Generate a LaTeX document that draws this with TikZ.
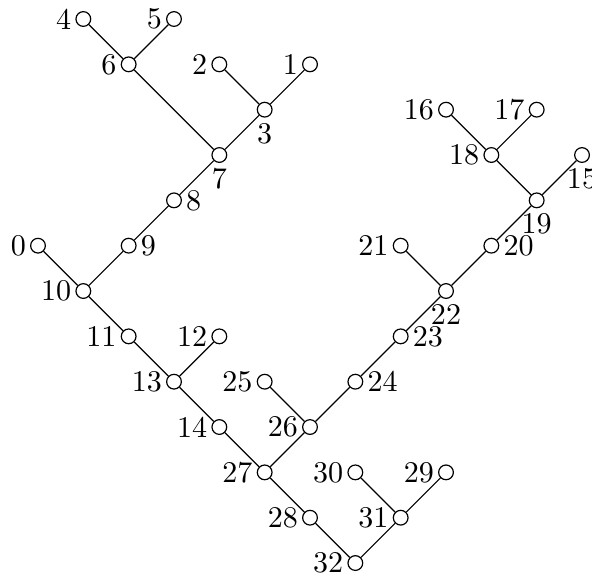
\documentclass[tikz,border=0pt]{standalone}
\usepackage{tikz}

\begin{document}
\begin{tikzpicture}[x=0.53cm,y=0.53cm]
\tikzset{
vtx/.style={circle,draw,fill=white,inner sep=0pt,minimum size=4.9pt},
every label/.style={inner sep=1.2pt},
link/.style={draw,line width=.4pt}
}
\useasboundingbox (-0.838,0.419) rectangle (12.22,-12.376);
% vertices with the label at one side
\foreach \n/\c/\r/\p in {0/0/5/left,1/6/1/left,2/4/1/left,4/1/0/left,5/3/0/left,6/2/1/left,
  8/3/4/right,9/2/5/right,10/1/6/left,11/2/7/left,12/4/7/left,13/3/8/left,14/4/9/left,
  16/9/2/left,17/11/2/left,18/10/3/left,20/10/5/right,21/8/5/left,23/8/7/right,
  24/7/8/right,25/5/8/left,26/6/9/left,27/5/10/left,28/6/11/left,29/9/10/left,
  30/7/10/left,31/8/11/left,32/7/12/left}
  \node[vtx,label=\p:\n] (v\n) at (\c,-\r) {};
% vertices with the label below
\foreach \n/\c/\r in {3/5/2,7/4/3,15/12/3,19/11/4,22/9/6}
  \node[vtx,label={[label distance=0.4pt]below:\n}] (v\n) at (\c,-\r) {};

\foreach \a/\b in {4/6,5/6,6/7,2/3,1/3,3/7,7/8,8/9,9/10,0/10,10/11,11/13,12/13,13/14,
  14/27,25/26,24/26,26/27,23/24,22/23,21/22,20/22,19/20,18/19,15/19,16/18,17/18,
  27/28,28/32,31/32,30/31,29/31}
  \draw[link] (v\a) -- (v\b);
\end{tikzpicture}
\end{document}
